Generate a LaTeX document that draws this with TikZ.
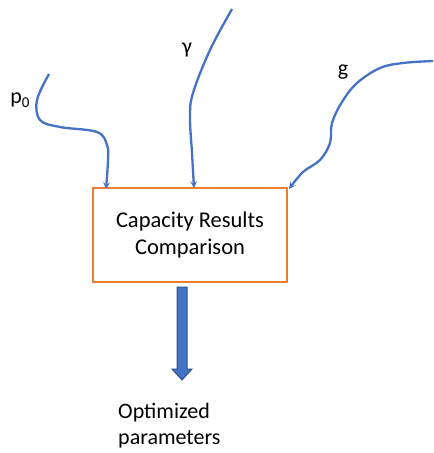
\documentclass[tikz,border=0pt]{standalone}
\usepackage{fontspec}
\setmainfont{Carlito}
\usetikzlibrary{arrows.meta}
\begin{document}
\begin{tikzpicture}[x=1pt,y=-1pt,font=\fontsize{22}{26}\selectfont]
   \definecolor{wireblue}{RGB}{68,114,196}
   \definecolor{arrowedge}{RGB}{47,82,143}
   \definecolor{boxorange}{RGB}{237,125,49}
   \tikzset{wire/.style={wireblue, line width=2.3pt, smooth, tension=0.6, -{Stealth[length=7pt,width=7pt,inset=3pt]}}}
   \useasboundingbox (0,0) rectangle (434,453);
   \node[draw=boxorange, line width=2pt, minimum width=194pt, minimum height=94pt, align=center, font=\fontsize{22.5}{27}\selectfont] (box) at (190,235) {Capacity Results\\Comparison};
   \node[align=left, anchor=west, inner sep=0pt] (out) at (118,426) {Optimized\\parameters};
   % input labels
   \node (p0) at (20,100) {p\raisebox{-0.35ex}{\fontsize{15}{15}\selectfont 0}};
   \node (gam) at (187,50) {γ};
   \node (g) at (343,72) {g};
   % input wires
   \coordinate (p0end) at ([xshift=-84pt,yshift=-2pt]box.north);
   \coordinate (gamend) at ([xshift=4pt,yshift=-1pt]box.north);
   \coordinate (gend) at ([xshift=1pt,yshift=-2pt]box.north east);
   \draw[wire] plot coordinates{(49,74) (37,100) (40,120) (60,127) (97,132) (107,145) (108,160) (p0end)};
   \draw[wire] plot coordinates{(232,9) (210,50) (193,93) (190,117) (192,153) (gamend)};
   \draw[wire] plot coordinates{(433,61) (403,63) (380,68) (357,83) (342,102) (332,123) (330,143) (320,160) (303,172) (gend)};
   % output arrow
   \draw[arrowedge, fill=wireblue, line width=1pt] (177,287) -- (187,287) -- (187,369) -- (192,369) -- (182,380) -- (172,369) -- (177,369) -- cycle;
\end{tikzpicture}
\end{document}
